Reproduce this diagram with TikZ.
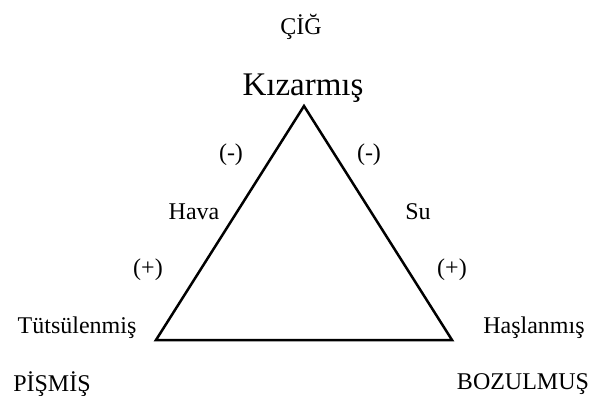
\documentclass[tikz,border=0pt]{standalone}
\usepackage{fontspec}
\setmainfont{Liberation Serif}
\usetikzlibrary{positioning}

\begin{document}
\begin{tikzpicture}[x=0.5pt,y=-0.5pt,
  lbl/.style={inner sep=0pt,font=\fontsize{12}{14}\selectfont},
  big/.style={inner sep=0pt,font=\fontsize{16.5}{19}\selectfont}]
\useasboundingbox (0,0) rectangle (589,396);
% Triangle corners
\coordinate (top) at (304,106);
\coordinate (left) at (156,340);
\coordinate (right) at (452,340);
\draw[line width=1.25pt,line join=miter] (top) -- (left) -- (right) -- cycle;

% Corner states
\node[lbl] (cig) at (301,27) {ÇİĞ};
\node[big] (kiz) at (303,88) {Kızarmış};
\node[lbl] (tut) at (77,328) {Tütsülenmiş};
\node[lbl] (has) at (534,328) {Haşlanmış};
\node[lbl] (pis) at (52,384) {PİŞMİŞ};
\node[lbl] (boz) at (523,384) {BOZULMUŞ};

% Side labels
\node[lbl] (minl) at (231,155) {(-)};
\node[lbl] (minr) at (369,155) {(-)};
\node[lbl] (hava) at (194,212) {Hava};
\node[lbl] (su) at (418,212) {Su};
\node[lbl] (plusl) at (148,270) {(+)};
\node[lbl] (plusr) at (452,270) {(+)};
\end{tikzpicture}
\end{document}
